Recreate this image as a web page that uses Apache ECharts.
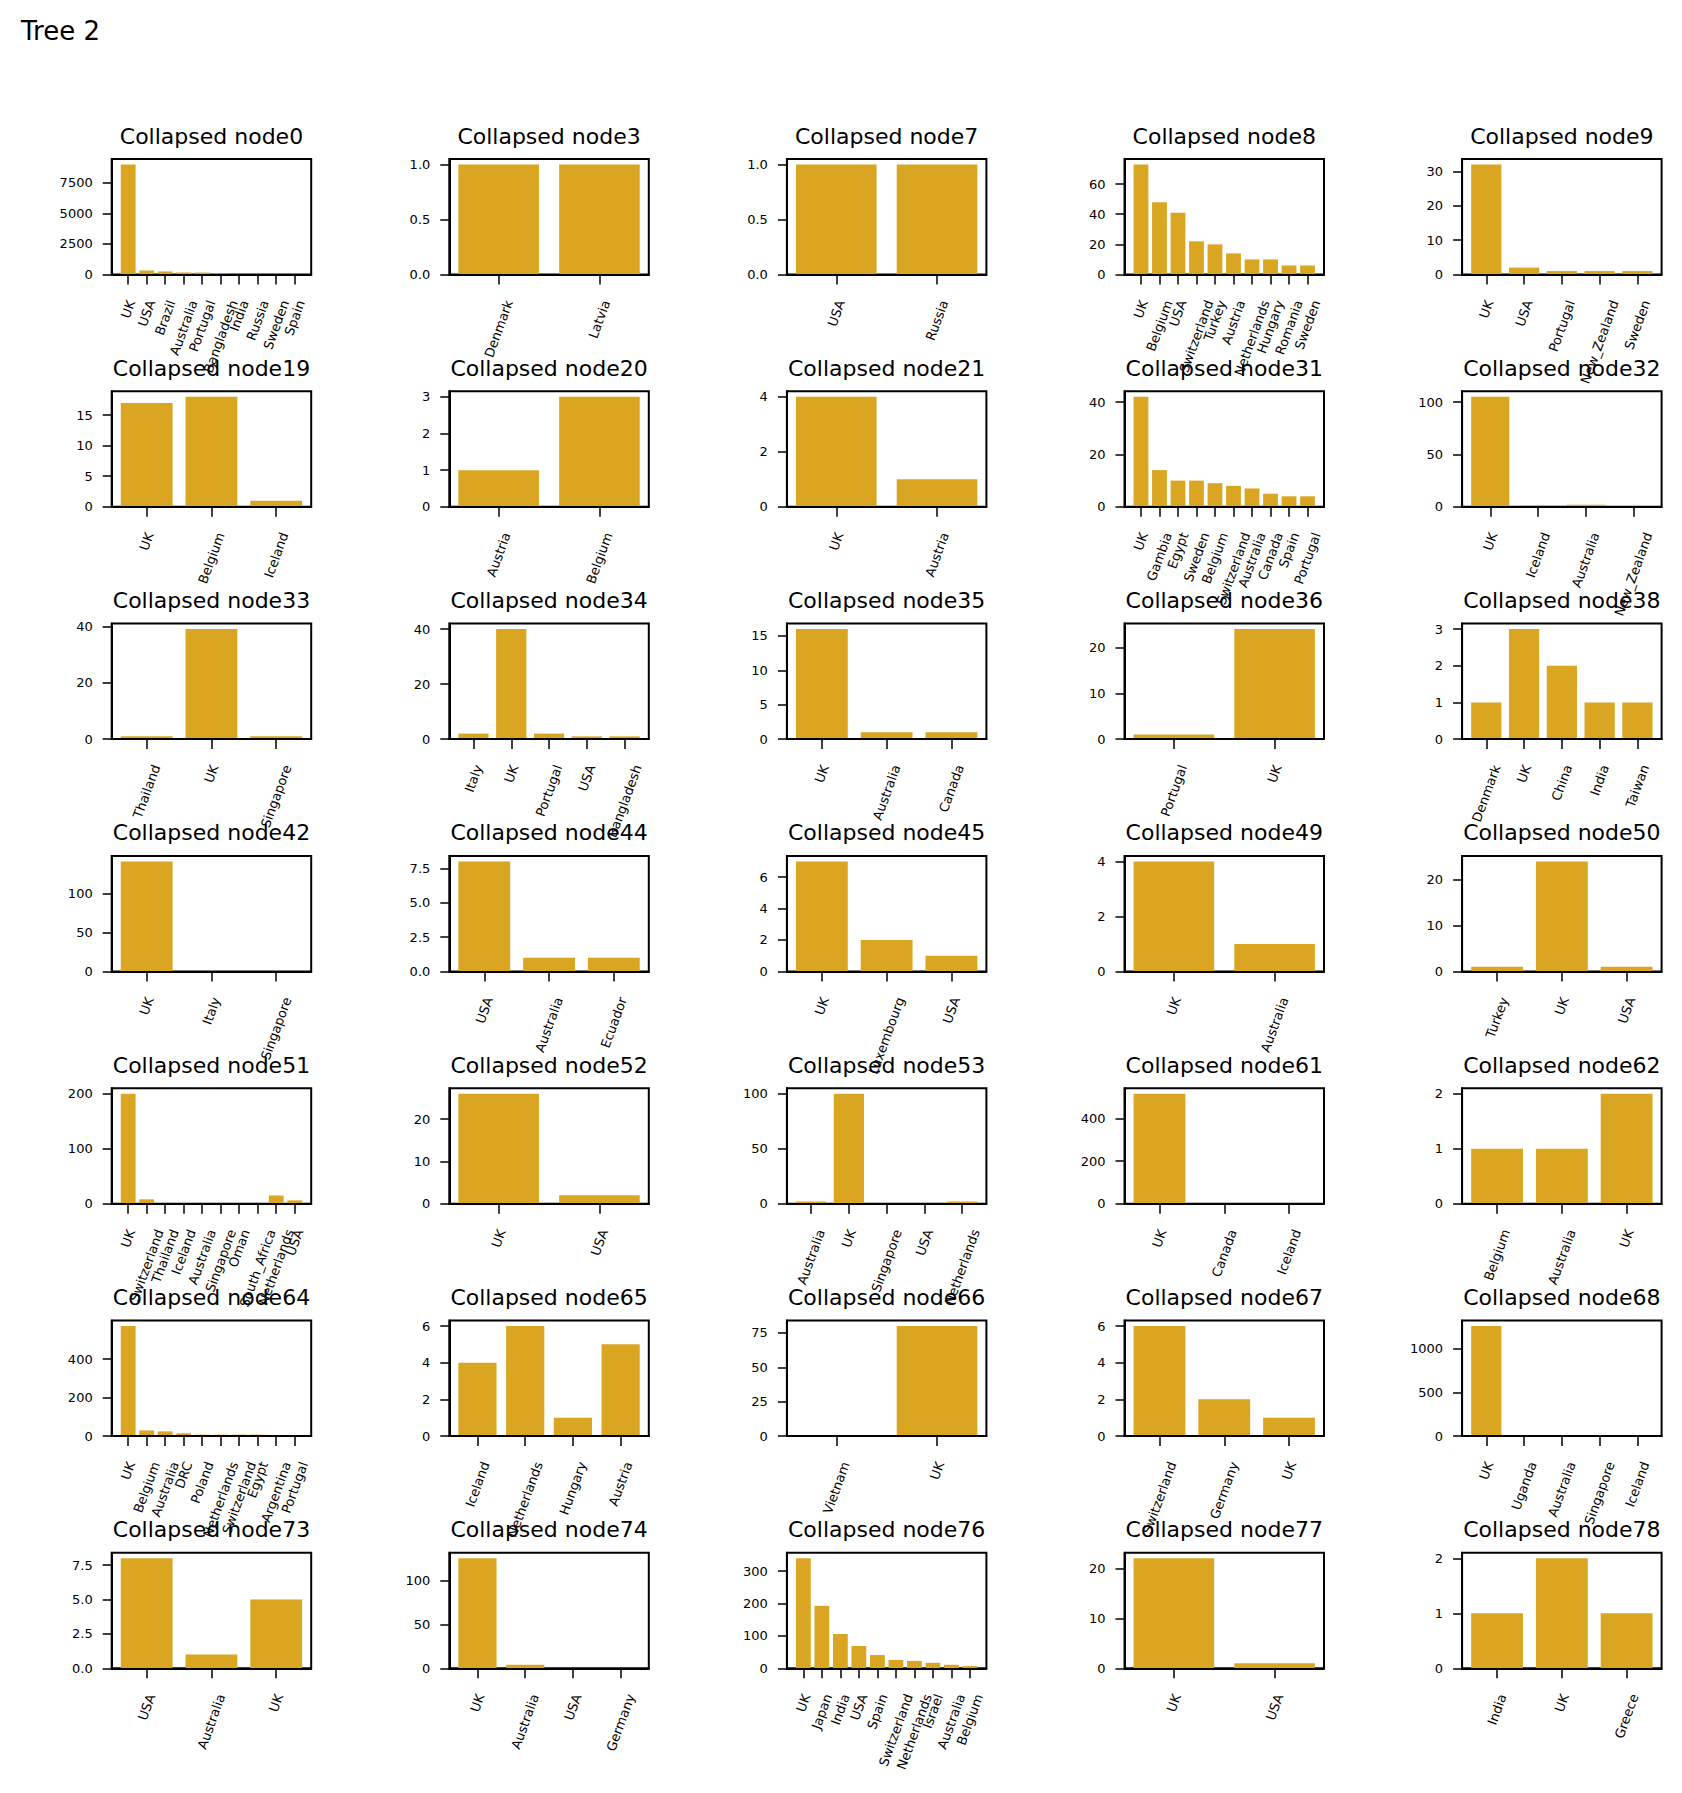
<!DOCTYPE html>
<html><head><meta charset="utf-8">
<script src="https://cdn.jsdelivr.net/npm/echarts@6/dist/echarts.min.js"></script>
<style>html,body{margin:0;padding:0;background:#fff}#c{width:1682px;height:1793px}</style>
</head><body><div id="c"></div>
<script>
// ---------------- data ----------------
const node0Countries = ['UK','USA','Brazil','Australia','Portugal','Bangladesh','India','Russia','Sweden','Spain'];
const node0Counts = [9000,330,250,165,160,80,10,6,5,4];
const node0YTicks = ['0','2500','5000','7500'];
const node3Countries = ['Denmark','Latvia'];
const node3Counts = [1,1];
const node3YTicks = ['0.0','0.5','1.0'];
const node7Countries = ['USA','Russia'];
const node7Counts = [1,1];
const node7YTicks = ['0.0','0.5','1.0'];
const node8Countries = ['UK','Belgium','USA','Switzerland','Turkey','Austria','Netherlands','Hungary','Romania','Sweden'];
const node8Counts = [73,48,41,22,20,14,10,10,6,6];
const node8YTicks = ['0','20','40','60'];
const node9Countries = ['UK','USA','Portugal','New_Zealand','Sweden'];
const node9Counts = [32,2,1,1,1];
const node9YTicks = ['0','10','20','30'];

const node19Countries = ['UK','Belgium','Iceland'];
const node19Counts = [17,18,1];
const node19YTicks = ['0','5','10','15'];
const node20Countries = ['Austria','Belgium'];
const node20Counts = [1,3];
const node20YTicks = ['0','1','2','3'];
const node21Countries = ['UK','Austria'];
const node21Counts = [4,1];
const node21YTicks = ['0','2','4'];
const node31Countries = ['UK','Gambia','Egypt','Sweden','Belgium','Switzerland','Australia','Canada','Spain','Portugal'];
const node31Counts = [42,14,10,10,9,8,7,5,4,4];
const node31YTicks = ['0','20','40'];
const node32Countries = ['UK','Iceland','Australia','New_Zealand'];
const node32Counts = [105,1,2,0];
const node32YTicks = ['0','50','100'];

const node33Countries = ['Thailand','UK','Singapore'];
const node33Counts = [1,39,1];
const node33YTicks = ['0','20','40'];
const node34Countries = ['Italy','UK','Portugal','USA','Bangladesh'];
const node34Counts = [2,40,2,1,1];
const node34YTicks = ['0','20','40'];
const node35Countries = ['UK','Australia','Canada'];
const node35Counts = [16,1,1];
const node35YTicks = ['0','5','10','15'];
const node36Countries = ['Portugal','UK'];
const node36Counts = [1,24];
const node36YTicks = ['0','10','20'];
const node38Countries = ['Denmark','UK','China','India','Taiwan'];
const node38Counts = [1,3,2,1,1];
const node38YTicks = ['0','1','2','3'];

const node42Countries = ['UK','Italy','Singapore'];
const node42Counts = [141,0,0];
const node42YTicks = ['0','50','100'];
const node44Countries = ['USA','Australia','Ecuador'];
const node44Counts = [8,1,1];
const node44YTicks = ['0.0','2.5','5.0','7.5'];
const node45Countries = ['UK','Luxembourg','USA'];
const node45Counts = [7,2,1];
const node45YTicks = ['0','2','4','6'];
const node49Countries = ['UK','Australia'];
const node49Counts = [4,1];
const node49YTicks = ['0','2','4'];
const node50Countries = ['Turkey','UK','USA'];
const node50Counts = [1,24,1];
const node50YTicks = ['0','10','20'];

const node51Countries = ['UK','Switzerland','Thailand','Iceland','Australia','Singapore','Oman','South_Africa','Netherlands','USA'];
const node51Counts = [200,8,0,0,0,0,0,0,15,6];
const node51YTicks = ['0','100','200'];
const node52Countries = ['UK','USA'];
const node52Counts = [26,2];
const node52YTicks = ['0','10','20'];
const node53Countries = ['Australia','UK','Singapore','USA','Netherlands'];
const node53Counts = [2,100,0,0,2];
const node53YTicks = ['0','50','100'];
const node61Countries = ['UK','Canada','Iceland'];
const node61Counts = [518,0,0];
const node61YTicks = ['0','200','400'];
const node62Countries = ['Belgium','Australia','UK'];
const node62Counts = [1,1,2];
const node62YTicks = ['0','1','2'];

const node64Countries = ['UK','Belgium','Australia','DRC','Poland','Netherlands','Switzerland','Egypt','Argentina','Portugal'];
const node64Counts = [572,29,24,14,7,7,7,7,1,1];
const node64YTicks = ['0','200','400'];
const node65Countries = ['Iceland','Netherlands','Hungary','Austria'];
const node65Counts = [4,6,1,5];
const node65YTicks = ['0','2','4','6'];
const node66Countries = ['Vietnam','UK'];
const node66Counts = [0,80];
const node66YTicks = ['0','25','50','75'];
const node67Countries = ['Switzerland','Germany','UK'];
const node67Counts = [6,2,1];
const node67YTicks = ['0','2','4','6'];
const node68Countries = ['UK','Uganda','Australia','Singapore','Iceland'];
const node68Counts = [1263,0,0,0,0];
const node68YTicks = ['0','500','1000'];

const node73Countries = ['USA','Australia','UK'];
const node73Counts = [8,1,5];
const node73YTicks = ['0.0','2.5','5.0','7.5'];
const node74Countries = ['UK','Australia','USA','Germany'];
const node74Counts = [126,4,0,0];
const node74YTicks = ['0','50','100'];
const node76Countries = ['UK','Japan','India','USA','Spain','Switzerland','Netherlands','Israel','Australia','Belgium'];
const node76Counts = [340,193,106,69,41,26,23,17,11,7];
const node76YTicks = ['0','100','200','300'];
const node77Countries = ['UK','USA'];
const node77Counts = [22,1];
const node77YTicks = ['0','10','20'];
const node78Countries = ['India','UK','Greece'];
const node78Counts = [1,2,1];
const node78YTicks = ['0','1','2'];

const panels = [
  ['Collapsed node0', node0Countries, node0Counts, node0YTicks],
  ['Collapsed node3', node3Countries, node3Counts, node3YTicks],
  ['Collapsed node7', node7Countries, node7Counts, node7YTicks],
  ['Collapsed node8', node8Countries, node8Counts, node8YTicks],
  ['Collapsed node9', node9Countries, node9Counts, node9YTicks],
  ['Collapsed node19', node19Countries, node19Counts, node19YTicks],
  ['Collapsed node20', node20Countries, node20Counts, node20YTicks],
  ['Collapsed node21', node21Countries, node21Counts, node21YTicks],
  ['Collapsed node31', node31Countries, node31Counts, node31YTicks],
  ['Collapsed node32', node32Countries, node32Counts, node32YTicks],
  ['Collapsed node33', node33Countries, node33Counts, node33YTicks],
  ['Collapsed node34', node34Countries, node34Counts, node34YTicks],
  ['Collapsed node35', node35Countries, node35Counts, node35YTicks],
  ['Collapsed node36', node36Countries, node36Counts, node36YTicks],
  ['Collapsed node38', node38Countries, node38Counts, node38YTicks],
  ['Collapsed node42', node42Countries, node42Counts, node42YTicks],
  ['Collapsed node44', node44Countries, node44Counts, node44YTicks],
  ['Collapsed node45', node45Countries, node45Counts, node45YTicks],
  ['Collapsed node49', node49Countries, node49Counts, node49YTicks],
  ['Collapsed node50', node50Countries, node50Counts, node50YTicks],
  ['Collapsed node51', node51Countries, node51Counts, node51YTicks],
  ['Collapsed node52', node52Countries, node52Counts, node52YTicks],
  ['Collapsed node53', node53Countries, node53Counts, node53YTicks],
  ['Collapsed node61', node61Countries, node61Counts, node61YTicks],
  ['Collapsed node62', node62Countries, node62Counts, node62YTicks],
  ['Collapsed node64', node64Countries, node64Counts, node64YTicks],
  ['Collapsed node65', node65Countries, node65Counts, node65YTicks],
  ['Collapsed node66', node66Countries, node66Counts, node66YTicks],
  ['Collapsed node67', node67Countries, node67Counts, node67YTicks],
  ['Collapsed node68', node68Countries, node68Counts, node68YTicks],
  ['Collapsed node73', node73Countries, node73Counts, node73YTicks],
  ['Collapsed node74', node74Countries, node74Counts, node74YTicks],
  ['Collapsed node76', node76Countries, node76Counts, node76YTicks],
  ['Collapsed node77', node77Countries, node77Counts, node77YTicks],
  ['Collapsed node78', node78Countries, node78Counts, node78YTicks]
];

// ---------------- layout / style ----------------
const FONT = 'DejaVu Sans';
const BAR_COLOR = '#DAA520';
const COL_LEFT = 111.7, COL_STEP = 337.6, AX_W = 199.5;
const ROW_TOP = 159, ROW_STEP = 232.3, AX_H = 115.5;
const ROT = 70 * Math.PI / 180;
const LABEL_PAD = 24;
const LABEL_FONT = '13px "DejaVu Sans"';
const measureCtx = document.createElement('canvas').getContext('2d');
measureCtx.font = LABEL_FONT;

const grid = [], xAxis = [], yAxis = [], series = [];
const title = [{
  text: 'Tree 2', left: 21, top: 18, padding: 0,
  textStyle: { fontFamily: FONT, fontSize: 26, fontWeight: 'normal', color: '#000' }
}];

panels.forEach((p, k) => {
  const [name, cats, vals, yt] = p;
  const r = Math.floor(k / 5), c = k % 5;
  const left = COL_LEFT + c * COL_STEP, top = ROW_TOP + r * ROW_STEP;
  const n = cats.length;
  const margin = 0.05 * (n - 0.2);
  const xmin = -0.4 - margin, xmax = n - 0.6 + margin;
  const ymax = Math.max(...vals) * 1.05;
  const yTickVals = yt.map(Number);

  grid.push({ left, top, width: AX_W, height: AX_H, show: true,
    borderColor: '#000', borderWidth: 2, backgroundColor: 'transparent' });

  xAxis.push({ type: 'value', gridIndex: k, min: xmin, max: xmax, z: 10,
    axisLine: { show: true, onZero: false, lineStyle: { color: '#000', width: 2 } },
    axisTick: { show: true, customValues: cats.map((_, i) => i), length: 10,
      lineStyle: { color: '#000', width: 1.5 } },
    axisLabel: { show: false }, splitLine: { show: false } });

  yAxis.push({ type: 'value', gridIndex: k, min: 0, max: ymax, z: 10,
    axisLine: { show: true, onZero: false, lineStyle: { color: '#000', width: 2 } },
    axisTick: { show: true, customValues: yTickVals, length: 9,
      lineStyle: { color: '#000', width: 1.5 } },
    axisLabel: { show: true, customValues: yTickVals, margin: 19,
      fontFamily: FONT, fontSize: 13, color: '#000',
      formatter: v => { const j = yTickVals.indexOf(v); return j >= 0 ? yt[j] : ''; } },
    splitLine: { show: false } });

  series.push({ type: 'bar', xAxisIndex: k, yAxisIndex: k, silent: true,
    data: vals.map((v, i) => [i, v]),
    barWidth: 0.8 * AX_W / (xmax - xmin),
    itemStyle: { color: BAR_COLOR } });

  series.push({ type: 'custom', xAxisIndex: k, yAxisIndex: k, silent: true, clip: false,
    data: cats.map((_, i) => [i, 0]),
    renderItem: (params, api) => {
      const label = cats[params.dataIndex];
      const pt = api.coord([api.value(0), 0]);
      const w = measureCtx.measureText(label).width;
      const h = 13;
      return { type: 'text',
        x: pt[0] + w * Math.cos(ROT) / 2,
        y: pt[1] + LABEL_PAD + h / 2 * Math.cos(ROT),
        rotation: ROT,
        style: { text: label, x: 0, y: 0, align: 'right', verticalAlign: 'middle',
          font: LABEL_FONT, fill: '#000' } };
    } });

  title.push({ text: name, left: left + AX_W / 2, top: top - 34, textAlign: 'center', padding: 0,
    textStyle: { fontFamily: FONT, fontSize: 22, fontWeight: 'normal', color: '#000' } });
});

const chart = echarts.init(document.getElementById('c'), null, { renderer: 'svg' });
chart.setOption({ animation: false, backgroundColor: '#fff', title, grid, xAxis, yAxis, series });
</script>
</body></html>
